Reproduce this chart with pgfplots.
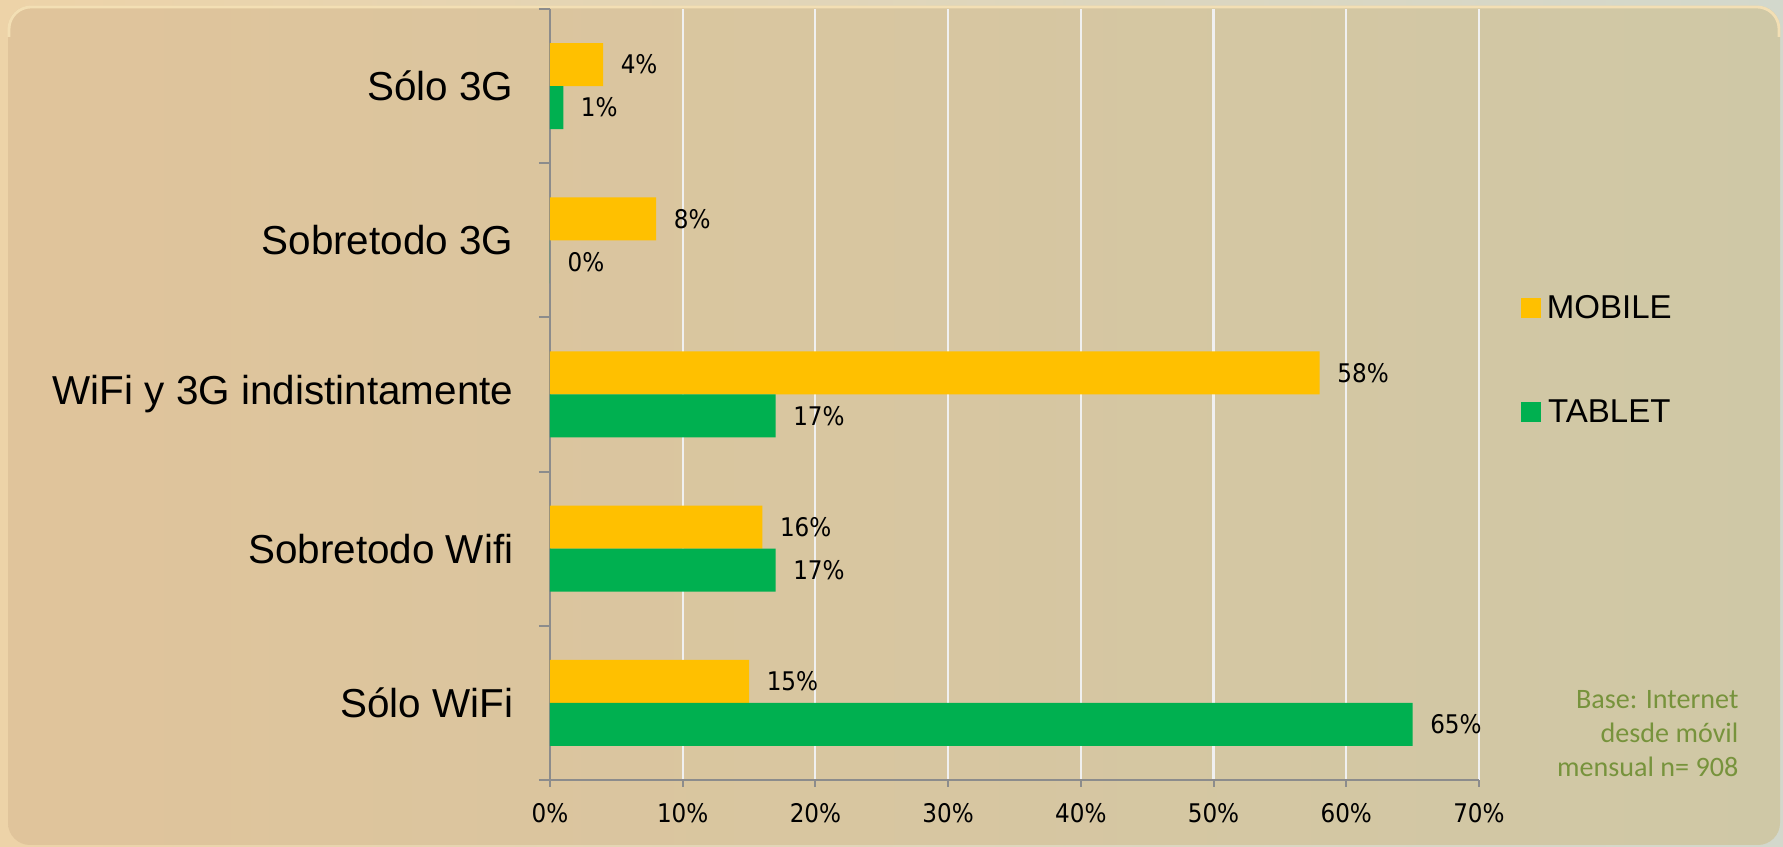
\documentclass[border=0pt]{standalone}
\usepackage{pgfplots}
\pgfplotsset{compat=1.18}
\usepackage{fontspec}
\setmainfont{Liberation Sans}
\newfontfamily\valfont{DejaVu Sans Condensed}
\newfontfamily\notefont{Carlito}
\definecolor{mob}{HTML}{FFC000}
\definecolor{tab}{HTML}{00B050}
\definecolor{axgray}{HTML}{8C8C8C}
\definecolor{notegreen}{HTML}{77933C}
\definecolor{bgoutL}{HTML}{EDD3A8}
\definecolor{bgoutR}{HTML}{D3D8CC}
\definecolor{bginL}{HTML}{E0C49B}
\definecolor{bginM}{HTML}{DAC59D}
\definecolor{bginR}{HTML}{CFC8A6}
\definecolor{hilite}{HTML}{F3DFB4}
\pgfplotsset{sq legend/.style={legend image code/.code={\fill[##1] (0cm,-0.08cm) rectangle (0.2cm,0.12cm);}}}
\begin{document}
\begin{tikzpicture}
\shade[left color=bgoutL, right color=bgoutR] (0,0) rectangle (17.83,8.47);
\shade[left color=bginL, middle color=bginM, right color=bginR, rounded corners=0.22cm] (0.08,0.02) rectangle (17.80,8.41);
\draw[hilite, line width=0.8pt, rounded corners=0.22cm] (0.09,8.1) -- (0.09,8.40) -- (17.79,8.40) -- (17.79,8.1);
\begin{axis}[
  at={(5.50cm,0.67cm)}, anchor=south west,
  width=9.29cm, height=7.71cm, scale only axis,
  xbar, bar width=0.43cm,
  xmin=0, xmax=70, ymin=-0.5, ymax=4.5,
  clip=false,
  axis x line*=bottom, axis y line*=left,
  axis line style={draw=axgray, line width=0.55pt, -},
  xtick={0,10,...,70},
  xticklabels={0\%,10\%,20\%,30\%,40\%,50\%,60\%,70\%},
  ytick={0,1,2,3,4},
  yticklabels={Sólo WiFi, Sobretodo Wifi, WiFi y 3G indistintamente, Sobretodo 3G, Sólo 3G},
  minor ytick={-0.5,0.5,...,4.5},
  tick align=outside,
  major tick length=0.07cm,
  minor tick length=0.11cm,
  xtick style={draw=axgray, line width=0.55pt},
  ytick style={draw=axgray, line width=0.55pt},
  major y tick style={draw=none},
  xmajorgrids=true,
  major x grid style={draw=white!88!gray, line width=0.6pt},
  xticklabel style={font=\valfont\fontsize{7.3}{8}\selectfont, inner sep=0pt, yshift=-0.16cm},
  yticklabel style={font=\fontsize{11.5}{13}\selectfont, inner sep=0pt, xshift=-0.29cm},
  nodes near coords={\pgfmathprintnumber[assume math mode=true]{\pgfplotspointmeta}\%},
  nodes near coords style={font=\valfont\fontsize{7.3}{8}\selectfont, anchor=west, inner sep=0pt, xshift=0.17cm, text=black},
  legend style={at={(1.033,0.542)}, anchor=west, draw=none, fill=none,
    font=\fontsize{9.4}{11}\selectfont, row sep=0.76cm,
    nodes={inner xsep=0.06cm, inner ysep=0pt}},
]
\addplot[fill=mob, draw=none, bar shift=0.215cm, sq legend] coordinates {(15,0) (16,1) (58,2) (8,3) (4,4)};
\addplot[fill=tab, draw=none, bar shift=-0.215cm, sq legend] coordinates {(65,0) (17,1) (17,2) (0,3) (1,4)};
\legend{MOBILE,TABLET}
\node[anchor=south east, align=right, inner sep=0pt, font=\notefont\fontsize{8}{9.7}\selectfont, text=notegreen] at (rel axis cs:1.28,0.003) {Base: Internet\\desde móvil\\mensual n= 908};
\end{axis}
\pgfresetboundingbox
\useasboundingbox (0,0) rectangle (17.83,8.47);
\end{tikzpicture}
\end{document}
